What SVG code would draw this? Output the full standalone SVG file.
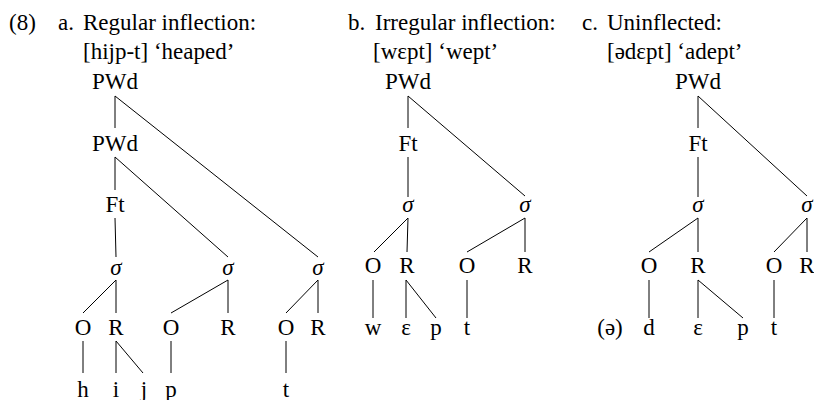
<svg xmlns="http://www.w3.org/2000/svg" width="814" height="400" viewBox="0 0 814 400">
<style>
text{font-family:"Liberation Serif","Times New Roman",serif;font-size:23px;fill:#000}
.n{text-anchor:middle}
.s{font-style:italic}
#edges line{stroke:#000;stroke-width:1}
</style>
<rect width="814" height="400" fill="#fff"/>
<g id="headings">
<text x="9" y="30">(8)</text>
<text x="58" y="30">a.</text>
<text x="83" y="30">Regular inflection:</text>
<text x="83" y="59">[hijp-t] ‘heaped’</text>
<text x="348" y="30">b.</text>
<text x="375" y="30">Irregular inflection:</text>
<text x="373" y="59">[wεpt] ‘wept’</text>
<text x="582" y="30">c.</text>
<text x="607" y="30">Uninflected:</text>
<text x="607" y="59">[ədεpt] ‘adept’</text>
</g>
<g id="edges">
<line x1="115" y1="96" x2="115" y2="128"/>
<line x1="115" y1="96" x2="318" y2="257"/>
<line x1="115" y1="157" x2="115" y2="190"/>
<line x1="115" y1="157" x2="228" y2="257"/>
<line x1="115" y1="218" x2="116" y2="257"/>
<line x1="116" y1="280" x2="83" y2="313"/>
<line x1="116" y1="280" x2="116" y2="313"/>
<line x1="228" y1="280" x2="171" y2="313"/>
<line x1="228" y1="280" x2="228" y2="313"/>
<line x1="318" y1="280" x2="286" y2="313"/>
<line x1="318" y1="280" x2="318" y2="313"/>
<line x1="83" y1="341" x2="83" y2="373"/>
<line x1="116" y1="341" x2="116" y2="373"/>
<line x1="116" y1="341" x2="143" y2="373"/>
<line x1="171" y1="341" x2="171" y2="373"/>
<line x1="286" y1="341" x2="286" y2="373"/>
<line x1="408" y1="96" x2="408" y2="128"/>
<line x1="408" y1="96" x2="525" y2="196"/>
<line x1="408" y1="157" x2="408" y2="197"/>
<line x1="408" y1="218" x2="374" y2="252"/>
<line x1="408" y1="218" x2="407" y2="252"/>
<line x1="525" y1="218" x2="467" y2="252"/>
<line x1="525" y1="218" x2="525" y2="252"/>
<line x1="373" y1="280" x2="373" y2="318"/>
<line x1="406" y1="280" x2="406" y2="318"/>
<line x1="406" y1="280" x2="436" y2="318"/>
<line x1="467" y1="280" x2="467" y2="318"/>
<line x1="698" y1="96" x2="698" y2="128"/>
<line x1="698" y1="96" x2="807" y2="196"/>
<line x1="698" y1="157" x2="698" y2="197"/>
<line x1="698" y1="218" x2="649" y2="252"/>
<line x1="698" y1="218" x2="698" y2="252"/>
<line x1="807" y1="218" x2="774" y2="252"/>
<line x1="807" y1="218" x2="807" y2="252"/>
<line x1="649" y1="280" x2="649" y2="318"/>
<line x1="698" y1="280" x2="698" y2="318"/>
<line x1="698" y1="280" x2="743" y2="318"/>
<line x1="774" y1="280" x2="774" y2="318"/>
</g>
<g id="a-pwd1"><text class="n" x="115" y="89">PWd</text></g>
<g id="a-pwd2"><text class="n" x="115" y="151">PWd</text></g>
<g id="a-ft"><text class="n" x="115" y="212">Ft</text></g>
<g id="a-syl1"><text class="n s" x="116" y="275">σ</text></g>
<g id="a-syl2"><text class="n s" x="228" y="275">σ</text></g>
<g id="a-syl3"><text class="n s" x="318" y="275">σ</text></g>
<g id="a-o1"><text class="n" x="83" y="335">O</text></g>
<g id="a-r1"><text class="n" x="116" y="335">R</text></g>
<g id="a-o2"><text class="n" x="171" y="335">O</text></g>
<g id="a-r2"><text class="n" x="228" y="335">R</text></g>
<g id="a-o3"><text class="n" x="286" y="335">O</text></g>
<g id="a-r3"><text class="n" x="318" y="335">R</text></g>
<g id="a-h"><text class="n" x="83" y="397">h</text></g>
<g id="a-i"><text class="n" x="116" y="397">i</text></g>
<g id="a-j"><text class="n" x="144" y="397">j</text></g>
<g id="a-p"><text class="n" x="171" y="397">p</text></g>
<g id="a-t"><text class="n" x="286" y="397">t</text></g>
<g id="b-pwd"><text class="n" x="408" y="89">PWd</text></g>
<g id="b-ft"><text class="n" x="408" y="151">Ft</text></g>
<g id="b-syl1"><text class="n s" x="408" y="212">σ</text></g>
<g id="b-syl2"><text class="n s" x="525" y="212">σ</text></g>
<g id="b-o1"><text class="n" x="373" y="273">O</text></g>
<g id="b-r1"><text class="n" x="407" y="273">R</text></g>
<g id="b-o2"><text class="n" x="467" y="273">O</text></g>
<g id="b-r2"><text class="n" x="525" y="273">R</text></g>
<g id="b-w"><text class="n" x="373" y="335">w</text></g>
<g id="b-e"><text class="n" x="406" y="335">ε</text></g>
<g id="b-p"><text class="n" x="436" y="335">p</text></g>
<g id="b-t"><text class="n" x="467" y="335">t</text></g>
<g id="c-pwd"><text class="n" x="698" y="89">PWd</text></g>
<g id="c-ft"><text class="n" x="698" y="151">Ft</text></g>
<g id="c-syl1"><text class="n s" x="698" y="212">σ</text></g>
<g id="c-syl2"><text class="n s" x="807" y="212">σ</text></g>
<g id="c-o1"><text class="n" x="649" y="273">O</text></g>
<g id="c-r1"><text class="n" x="698" y="273">R</text></g>
<g id="c-o2"><text class="n" x="774" y="273">O</text></g>
<g id="c-r2"><text class="n" x="807" y="273">R</text></g>
<g id="c-schwa"><text class="n" x="610" y="335">(ə)</text></g>
<g id="c-d"><text class="n" x="649" y="335">d</text></g>
<g id="c-e"><text class="n" x="698" y="335">ε</text></g>
<g id="c-p"><text class="n" x="743" y="335">p</text></g>
<g id="c-t"><text class="n" x="774" y="335">t</text></g>
</svg>
